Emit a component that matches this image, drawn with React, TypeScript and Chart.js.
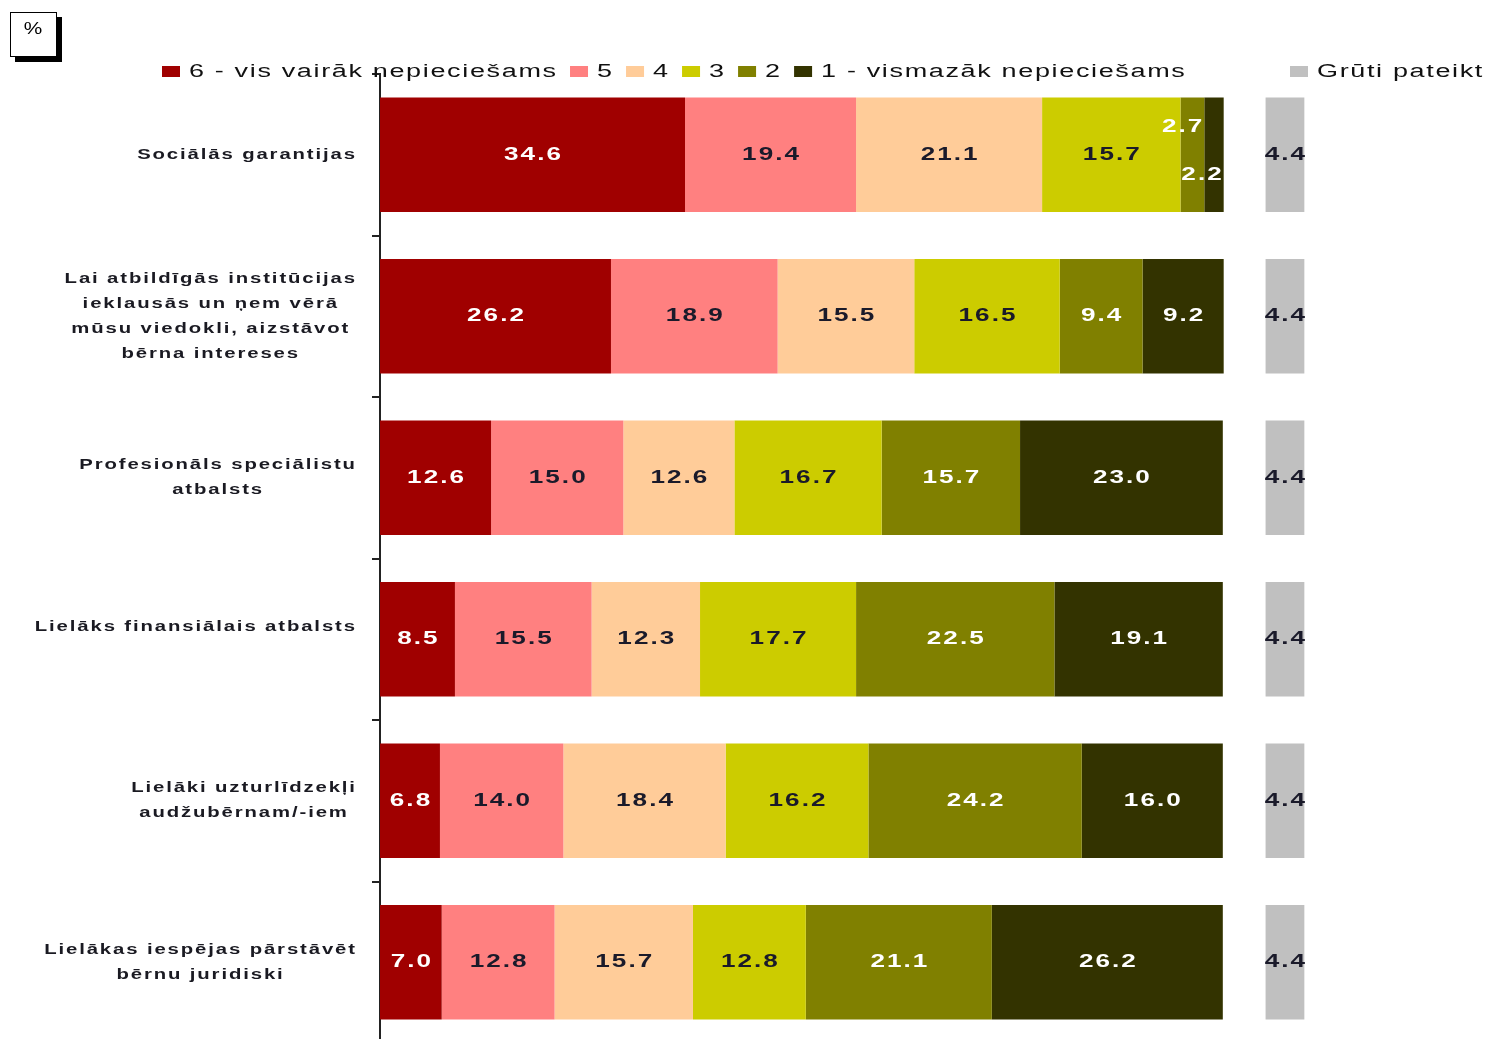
import React, { useEffect, useRef } from "react";
import { Chart, registerables } from "chart.js";

Chart.register(...registerables);

const CATEGORIES: string[][] = [
  ["Sociālās garantijas"],
  ["Lai atbildīgās institūcijas", "ieklausās un ņem vērā", "mūsu viedokli, aizstāvot", "bērna intereses"],
  ["Profesionāls speciālistu", "atbalsts"],
  ["Lielāks finansiālais atbalsts", ""],
  ["Lielāki uzturlīdzekļi", "audžubērnam/-iem"],
  ["Lielākas iespējas pārstāvēt", "bērnu juridiski"],
];

const SERIES_LABELS = [
  "6 - vis vairāk nepieciešams",
  "5",
  "4",
  "3",
  "2",
  "1 - vismazāk nepieciešams",
  "Grūti pateikt",
];

const S6 = [34.6, 26.2, 12.6, 8.5, 6.8, 7.0];
const S5 = [19.4, 18.9, 15.0, 15.5, 14.0, 12.8];
const S4 = [21.1, 15.5, 12.6, 12.3, 18.4, 15.7];
const S3 = [15.7, 16.5, 16.7, 17.7, 16.2, 12.8];
const S2 = [2.7, 9.4, 15.7, 22.5, 24.2, 21.1];
const S1 = [2.2, 9.2, 23.0, 19.1, 16.0, 26.2];
const HARD = [4.4, 4.4, 4.4, 4.4, 4.4, 4.4];

const COLORS = ["#A00000", "#FF8080", "#FFCC99", "#CCCC00", "#808000", "#333300", "#C0C0C0"];
const LABEL_COLORS = ["#ffffff", "#1a1a2a", "#1a1a2a", "#1a1a2a", "#ffffff", "#ffffff", "#1a1a2a"];

const X_MAX = 125;
const HARD_OFFSET = 100.45;
const FONT = "'Liberation Sans', Arial, sans-serif";

function drawText(
  ctx: CanvasRenderingContext2D,
  text: string,
  x: number,
  y: number,
  align: "left" | "center" | "right",
  font: string,
  color: string,
  sx: number,
  ls: number
): number {
  ctx.save();
  ctx.font = font;
  (ctx as any).letterSpacing = ls + "px";
  const w = (ctx.measureText(text).width - ls) * sx;
  const left = align === "left" ? x : align === "center" ? x - w / 2 : x - w;
  ctx.translate(left, y);
  ctx.scale(sx, 1);
  ctx.textAlign = "left";
  ctx.textBaseline = "middle";
  ctx.fillStyle = color;
  ctx.fillText(text, 0, 0);
  ctx.restore();
  return w;
}

function measure(ctx: CanvasRenderingContext2D, text: string, font: string, sx: number, ls: number) {
  ctx.save();
  ctx.font = font;
  (ctx as any).letterSpacing = ls + "px";
  const w = (ctx.measureText(text).width - ls) * sx;
  ctx.restore();
  return w;
}

const decorPlugin = {
  id: "decor",
  afterDraw(chart: any) {
    const ctx: CanvasRenderingContext2D = chart.ctx;
    // % box
    ctx.save();
    ctx.fillStyle = "#000";
    ctx.fillRect(15, 17, 47, 45);
    ctx.fillStyle = "#fff";
    ctx.fillRect(10, 12, 47, 45);
    ctx.strokeStyle = "#000";
    ctx.lineWidth = 1;
    ctx.strokeRect(10.5, 12.5, 46, 44);
    ctx.restore();
    drawText(ctx, "%", 33, 30, "center", `16px ${FONT}`, "#000", 1.3, 0);

    // legend
    const lfont = `18px ${FONT}`;
    let lx = 162;
    const ly = 72;
    chart.data.datasets.forEach((ds: any, i: number) => {
      if (i === 6) lx = 1290;
      ctx.fillStyle = ds.backgroundColor;
      ctx.fillRect(lx, ly - 6, 18, 11);
      const w = drawText(ctx, ds.label, lx + 27, ly, "left", lfont, "#111", 1.5, 1.1);
      lx = lx + 27 + w + 14;
    });

    // y category labels
    const yScale = chart.scales.y;
    const yfont = `bold 14px ${FONT}`;
    CATEGORIES.forEach((lines, i) => {
      const cy = yScale.getPixelForValue(i);
      const widths = lines.map((l) => measure(ctx, l, yfont, 1.45, 1.3));
      const maxW = Math.max(...widths);
      const cx = 355 - maxW / 2;
      const lh = 25;
      const y0 = cy - ((lines.length - 1) * lh) / 2;
      lines.forEach((l, k) => {
        if (l) drawText(ctx, l, cx, y0 + k * lh, "center", yfont, "#1a1a22", 1.45, 1.3);
      });
    });

    // data labels
    const dfont = `bold 18px ${FONT}`;
    chart.data.datasets.forEach((ds: any, i: number) => {
      const meta = chart.getDatasetMeta(i);
      meta.data.forEach((bar: any, j: number) => {
        const v = ds.data[j];
        const txt = v.toFixed(1);
        const x0 = Math.min(bar.x, bar.base);
        const x1 = Math.max(bar.x, bar.base);
        if (v < 4 && i < 6) {
          const dy = i === 4 ? -28 : 20;
          drawText(ctx, txt, x1 - 2, bar.y + dy, "right", dfont, LABEL_COLORS[i], 1.45, 1.4);
        } else {
          drawText(ctx, txt, (x0 + x1) / 2, bar.y, "center", dfont, LABEL_COLORS[i], 1.45, 1.4);
        }
      });
    });
  },
};

export default function App() {
  const ref = useRef<HTMLCanvasElement>(null);
  useEffect(() => {
    if (!ref.current) return;
    const series = [S6, S5, S4, S3, S2, S1];
    const datasets: any[] = series.map((d, i) => ({
      label: SERIES_LABELS[i],
      data: d,
      backgroundColor: COLORS[i],
      borderWidth: 0,
      stack: "a",
      xAxisID: "x",
      barPercentage: 0.71,
      categoryPercentage: 1.0,
    }));
    datasets.push({
      label: SERIES_LABELS[6],
      data: HARD,
      backgroundColor: COLORS[6],
      borderWidth: 0,
      stack: "a",
      xAxisID: "x2",
      barPercentage: 0.71,
      categoryPercentage: 1.0,
    });
    const chart = new Chart(ref.current, {
      type: "bar",
      data: { labels: CATEGORIES.map((c) => c.join(" ")), datasets },
      options: {
        indexAxis: "y",
        responsive: false,
        animation: false,
        layout: { padding: { top: 74, right: 5, left: 0, bottom: 0 } },
        plugins: { legend: { display: false }, tooltip: { enabled: false } },
        scales: {
          x: { type: "linear", axis: "x", position: "bottom", stacked: true, min: 0, max: X_MAX, display: false },
          x2: {
            type: "linear",
            axis: "x",
            position: "bottom",
            stacked: false,
            min: -HARD_OFFSET,
            max: X_MAX - HARD_OFFSET,
            display: false,
          },
          y: {
            stacked: true,
            grid: { drawOnChartArea: false, drawTicks: true, tickLength: 8, color: "#222", lineWidth: 2 },
            border: { display: true, color: "#222", width: 2 },
            ticks: { display: false },
            afterFit: (s: any) => {
              s.width = 380;
            },
          },
        },
      } as any,
      plugins: [decorPlugin],
    });
    return () => chart.destroy();
  }, []);
  return (
    <div
      style={{
        position: "fixed",
        left: 0,
        top: 0,
        width: 1487,
        height: 1039,
        overflow: "hidden",
        background: "#fff",
      }}
    >
      <canvas ref={ref} width={1487} height={1043} style={{ display: "block" }} />
    </div>
  );
}
